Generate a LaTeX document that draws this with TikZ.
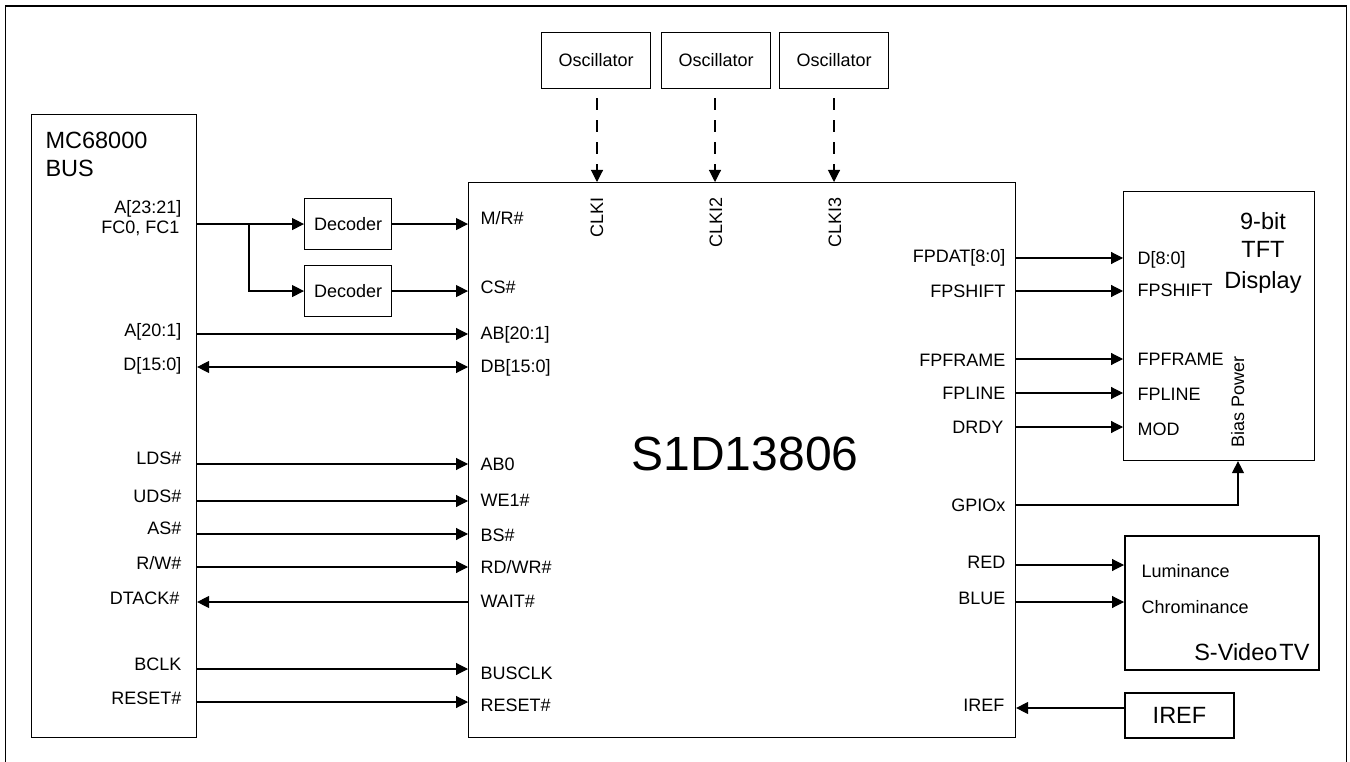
\documentclass[tikz,border=0pt]{standalone}
\usepackage{fontspec}
\setmainfont{Liberation Sans}
\usetikzlibrary{arrows.meta}
\newcommand\fsmall{\fontsize{18}{21}\selectfont}
\newcommand\flarge{\fontsize{23.5}{29}\selectfont}
\newcommand\fchip{\fontsize{48}{56}\selectfont}
\begin{document}
\begin{tikzpicture}[x=1pt,y=-1pt,line width=1.1pt]
\tikzset{
 arr/.style={-{Triangle[length=12pt,width=12pt]}},
 darr/.style={{Triangle[length=12pt,width=12pt]}-{Triangle[length=12pt,width=12pt]}},
 dsh/.style={dash pattern=on 12pt off 10pt,dash phase=13pt},
 blk/.style={draw,inner sep=0pt,anchor=north west},
 lbl/.style={inner sep=0pt,font=\fsmall},
 big/.style={inner sep=0pt,font=\flarge},
}
\useasboundingbox (0,0) rectangle (1350,762);
% frame
\draw (5.5,762) -- (5.5,6) -- (1346.5,6) -- (1346.5,762);

% blocks
\node[blk,minimum width=165pt,minimum height=623pt] (bus) at (31,114) {};
\node[blk,minimum width=547pt,minimum height=555pt] (chip) at (468,182) {};
\node[blk,minimum width=87pt,minimum height=51pt,font=\fsmall] (dec1) at (304,198) {Decoder};
\node[blk,minimum width=87pt,minimum height=51pt,font=\fsmall] (dec2) at (304,265) {Decoder};
\node[blk,minimum width=109pt,minimum height=56pt,font=\fsmall] (osc1) at (541,32) {Oscillator};
\node[blk,minimum width=109pt,minimum height=56pt,font=\fsmall] (osc2) at (661,32) {Oscillator};
\node[blk,minimum width=109pt,minimum height=56pt,font=\fsmall] (osc3) at (779,32) {Oscillator};
\node[blk,minimum width=191pt,minimum height=269pt] (disp) at (1123,191) {};
\node[blk,line width=2pt,minimum width=194pt,minimum height=134pt] (svid) at (1124,535) {};
\node[blk,line width=2pt,minimum width=109pt,minimum height=45pt,font=\flarge] (iref) at (1124,692) {IREF};

% titles
\node[big,anchor=base west] (t1) at (45,148.3) {MC68000};
\node[big,anchor=base west] (t2) at (45,176.7) {BUS};
\node[inner sep=0pt,font=\fchip,anchor=base] (tchip) at (745,470.7) {S1D13806};
\node[big,anchor=base] (d1) at (1263,230) {9-bit};
\node[big,anchor=base] (d2) at (1263,258) {TFT};
\node[big,anchor=base] (d3) at (1263,288) {Display};
\node[lbl,anchor=base west,rotate=90] (bias) at (1244,448) {Bias Power};
\node[lbl,anchor=base west] (lum) at (1141,577) {Luminance};
\node[lbl,anchor=base west] (chr) at (1141,613) {Chrominance};
\node[big,anchor=base east] (sv) at (1310,660) {S-Video\kern2pt TV};

% bus labels
\node[lbl,anchor=base east] at (182,214) {A[23:21]};
\node[lbl,anchor=base east] at (180,234) {FC0, FC1};
\node[lbl,anchor=base east] at (182,336) {A[20:1]};
\node[lbl,anchor=base east] at (182,370) {D[15:0]};
\node[lbl,anchor=base east] at (182,464) {LDS\#};
\node[lbl,anchor=base east] at (182,502) {UDS\#};
\node[lbl,anchor=base east] at (182,534) {AS\#};
\node[lbl,anchor=base east] at (182,569) {R/W\#};
\node[lbl,anchor=base east] at (180,604) {DTACK\#};
\node[lbl,anchor=base east] at (182,670) {BCLK};
\node[lbl,anchor=base east] at (182,704) {RESET\#};

% chip left labels
\node[lbl,anchor=base west] at (480,225) {M/R\#};
\node[lbl,anchor=base west] at (480,294) {CS\#};
\node[lbl,anchor=base west] at (480,339) {AB[20:1]};
\node[lbl,anchor=base west] at (480,372) {DB[15:0]};
\node[lbl,anchor=base west] at (480,470) {AB0};
\node[lbl,anchor=base west] at (480,506) {WE1\#};
\node[lbl,anchor=base west] at (480,541) {BS\#};
\node[lbl,anchor=base west] at (480,573) {RD/WR\#};
\node[lbl,anchor=base west] at (480,607) {WAIT\#};
\node[lbl,anchor=base west] at (480,679) {BUSCLK};
\node[lbl,anchor=base west] at (480,711) {RESET\#};

% chip top labels
\node[lbl,anchor=east,rotate=90] at (597,197) {CLKI};
\node[lbl,anchor=east,rotate=90] at (716,197) {CLKI2};
\node[lbl,anchor=east,rotate=90] at (835,197) {CLKI3};

% chip right labels
\node[lbl,anchor=base east] at (1006,263) {FPDAT[8:0]};
\node[lbl,anchor=base east] at (1006,298) {FPSHIFT};
\node[lbl,anchor=base east] at (1006,366) {FPFRAME};
\node[lbl,anchor=base east] at (1006,399) {FPLINE};
\node[lbl,anchor=base east] at (1004,433) {DRDY};
\node[lbl,anchor=base east] at (1006,511) {GPIOx};
\node[lbl,anchor=base east] at (1006,568) {RED};
\node[lbl,anchor=base east] at (1006,604) {BLUE};
\node[lbl,anchor=base east] at (1005,711) {IREF};

% display labels
\node[lbl,anchor=base west] at (1137,265) {D[8:0]};
\node[lbl,anchor=base west] at (1137,296) {FPSHIFT};
\node[lbl,anchor=base west] at (1137,365) {FPFRAME};
\node[lbl,anchor=base west] at (1137,400) {FPLINE};
\node[lbl,anchor=base west] at (1137,435) {MOD};

% oscillator connectors
\draw[arr,dsh] (osc1.south -| 597,0) -- (chip.north -| 597,0);
\draw[arr,dsh] (osc2.south -| 715,0) -- (chip.north -| 715,0);
\draw[arr,dsh] (osc3.south -| 834,0) -- (chip.north -| 834,0);

% decoder connectors
\coordinate (br) at (249,223.5);
\draw[arr] (bus.east |- dec1.west) -- (dec1.west);
\draw[arr] (br) |- (dec2.west);
\draw[arr] (dec1.east) -- (dec1.east -| chip.west);
\draw[arr] (dec2.east) -- (dec2.east -| chip.west);

% bus to chip
\draw[arr] (bus.east |- 0,334) -- (chip.west |- 0,334);
\draw[darr] (bus.east |- 0,367) -- (chip.west |- 0,367);
\draw[arr] (bus.east |- 0,464) -- (chip.west |- 0,464);
\draw[arr] (bus.east |- 0,501) -- (chip.west |- 0,501);
\draw[arr] (bus.east |- 0,534) -- (chip.west |- 0,534);
\draw[arr] (bus.east |- 0,567) -- (chip.west |- 0,567);
\draw[arr] (chip.west |- 0,602) -- (bus.east |- 0,602);
\draw[arr] (bus.east |- 0,669) -- (chip.west |- 0,669);
\draw[arr] (bus.east |- 0,702) -- (chip.west |- 0,702);

% chip to display
\draw[arr] (chip.east |- 0,258) -- (disp.west |- 0,258);
\draw[arr] (chip.east |- 0,291) -- (disp.west |- 0,291);
\draw[arr] (chip.east |- 0,359) -- (disp.west |- 0,359);
\draw[arr] (chip.east |- 0,393) -- (disp.west |- 0,393);
\draw[arr] (chip.east |- 0,427) -- (disp.west |- 0,427);
\draw[arr] (chip.east |- 0,505) -| (disp.south -| 1238,0);

% chip to S-Video, IREF
\draw[arr] (chip.east |- 0,565) -- (svid.west |- 0,565);
\draw[arr] (chip.east |- 0,602) -- (svid.west |- 0,602);
\draw[arr] (iref.west |- 0,708) -- (chip.east |- 0,708);
\end{tikzpicture}
\end{document}
